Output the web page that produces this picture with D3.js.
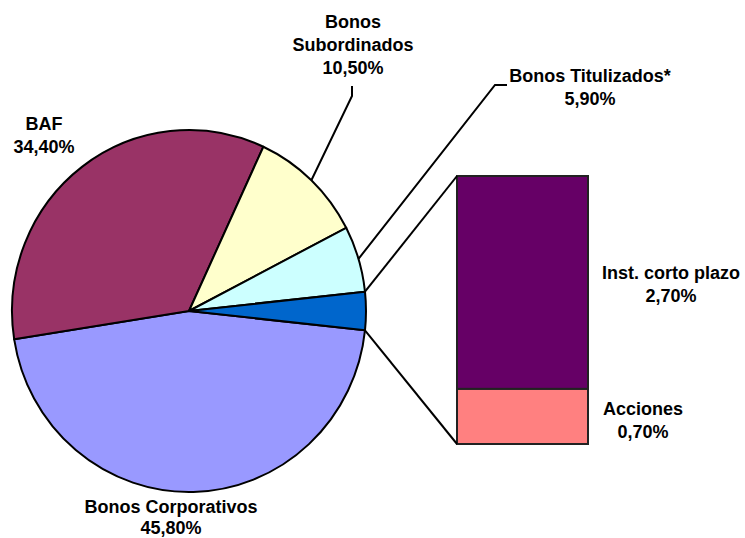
<!DOCTYPE html>
<html>
<head>
<meta charset="utf-8">
<script src="https://cdn.jsdelivr.net/npm/d3@7"></script>
<style>
  html, body { margin: 0; padding: 0; background: #fff; }
  svg text { font-family: "Liberation Sans", Arial, sans-serif; font-weight: bold; font-size: 18px; fill: #000; }
</style>
</head>
<body>
<svg id="chart" width="745" height="538"></svg>
<script>
// Portfolio composition: main pie plus a breakdown bar for the small items
const pieCategories = ["Bonos Corporativos", "BAF", "Bonos Subordinados", "Bonos Titulizados*", "Otros"];
const pieValues = [45.8, 34.4, 10.5, 5.9, 3.4];
const pieColors = ["#9999FF", "#993366", "#FFFFCC", "#CCFFFF", "#0066CC"];

const barCategories = ["Acciones", "Inst. corto plazo"];
const barValues = [0.7, 2.7];
const barColors = ["#FF8080", "#660066"];

const fmt = v => v.toFixed(2).replace(".", ",") + "%";

const svg = d3.select("#chart");

// Pie geometry (slightly taller than wide)
const cx = 189, cy = 311, r = 177, ry = 181;
const yScale = ry / r;

const otherShare = pieValues[4] / d3.sum(pieValues);
const pie = d3.pie().sort(null).value(d => d)
  .startAngle(Math.PI / 2 + otherShare * Math.PI)
  .endAngle(Math.PI / 2 + otherShare * Math.PI + 2 * Math.PI);
const arcs = pie(pieValues);
const arc = d3.arc().innerRadius(0).outerRadius(r);

const pt = (a, rad = r) => [cx + rad * Math.sin(a), cy - rad * yScale * Math.cos(a)];

const g = svg.append("g").attr("transform", `translate(${cx},${cy}) scale(1,${yScale})`);
g.selectAll("path").data(arcs).join("path")
  .attr("d", arc)
  .attr("fill", (d, i) => pieColors[i])
  .attr("stroke", "#000")
  .attr("stroke-width", 2)
  .attr("vector-effect", "non-scaling-stroke")
  .attr("stroke-linejoin", "round");

// Breakdown bar
const barX = 457, barW = 131;
const yBar = d3.scaleLinear().domain([0, d3.sum(barValues)]).range([444, 176]);
let acc = 0;
const stacks = barValues.map(v => { const s = { y0: acc, y1: acc + v }; acc += v; return s; });

svg.append("g").selectAll("rect").data(stacks).join("rect")
  .attr("x", barX)
  .attr("y", d => yBar(d.y1))
  .attr("width", barW)
  .attr("height", d => yBar(d.y0) - yBar(d.y1))
  .attr("fill", (d, i) => barColors[i])
  .attr("stroke", "#222")
  .attr("stroke-width", 2);

// Connectors from the "Otros" slice edges to the bar
const other = arcs[4];
const topEdge = pt(other.startAngle);
const botEdge = pt(other.endAngle);
const lines = svg.append("g").attr("fill", "none").attr("stroke", "#000").attr("stroke-width", 2);
lines.append("line").attr("x1", topEdge[0]).attr("y1", topEdge[1]).attr("x2", barX).attr("y2", yBar(d3.sum(barValues)));
lines.append("line").attr("x1", botEdge[0]).attr("y1", botEdge[1]).attr("x2", barX).attr("y2", yBar(0));

// Leader lines for the outside labels
const mid = d => (d.startAngle + d.endAngle) / 2;
const subStart = pt(mid(arcs[2]));
lines.append("polyline").attr("points", [subStart, [352, 96], [352, 86]].map(p => p.join(",")).join(" "));
const titStart = pt(mid(arcs[3]));
lines.append("polyline").attr("points", [titStart, [495, 85], [507, 85]].map(p => p.join(",")).join(" "));

// Labels
const labels = [
  { lines: ["Bonos Corporativos", fmt(pieValues[0])], x: 171, y: 513, dy: 21 },
  { lines: ["BAF", fmt(pieValues[1])], x: 44, y: 130, dy: 23 },
  { lines: ["Bonos", "Subordinados", fmt(pieValues[2])], x: 353, y: 28, dy: 23 },
  { lines: ["Bonos Titulizados*", fmt(pieValues[3])], x: 590, y: 82, dy: 23 },
  { lines: [barCategories[1], fmt(barValues[1])], x: 671, y: 279, dy: 23 },
  { lines: [barCategories[0], fmt(barValues[0])], x: 643, y: 415, dy: 23 }
];
const lg = svg.append("g");
labels.forEach(l => {
  const t = lg.append("text").attr("text-anchor", "middle");
  l.lines.forEach((s, i) => {
    t.append("tspan").attr("x", l.x).attr("y", l.y + i * l.dy).text(s);
  });
});
</script>
</body>
</html>
